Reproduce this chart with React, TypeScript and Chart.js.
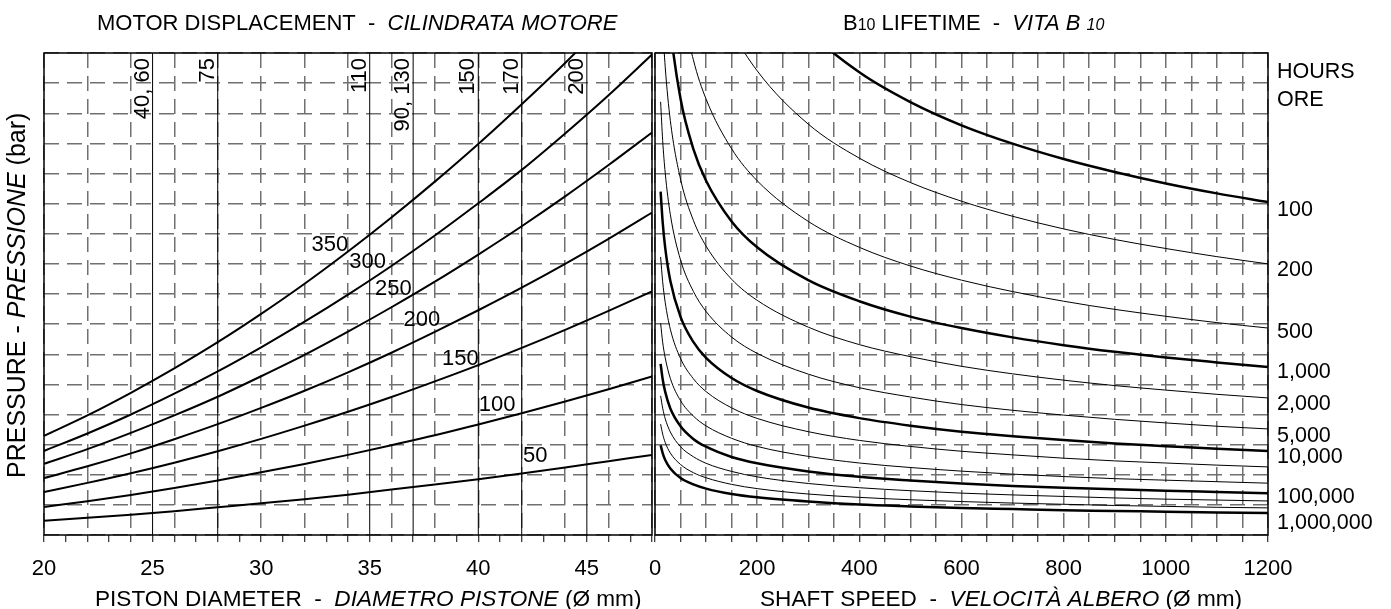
import { useEffect, useRef } from 'react';
import { Chart, registerables } from 'chart.js';

Chart.register(...registerables);

const FONT = '"Liberation Sans", Arial, Helvetica, sans-serif';
const GRID = '#707070';

// ---------- LEFT PANEL: motor displacement ----------
const pistonDiameters = [20, 22, 24, 26, 28, 30, 32, 34, 36, 38, 40, 42, 44, 46, 48];
const pressureCurveLabels = ['50', '100', '150', '200', '250', '300', '350'];
const load50 = [0.47, 0.57, 0.67, 0.79, 0.92, 1.05, 1.19, 1.34, 1.51, 1.68, 1.85, 2.04, 2.24, 2.45, 2.66];
const load100 = [0.93, 1.12, 1.33, 1.56, 1.81, 2.08, 2.36, 2.66, 2.98, 3.31, 3.67, 4.04, 4.43, 4.84, 5.26];
const load150 = [1.43, 1.73, 2.05, 2.4, 2.78, 3.19, 3.63, 4.09, 4.58, 5.1, 5.64, 6.21, 6.81, 7.44, 8.09];
const load200 = [1.89, 2.28, 2.71, 3.18, 3.68, 4.22, 4.79, 5.4, 6.05, 6.74, 7.46, 8.21, 9.0, 9.83, 10.7];
const load250 = [2.36, 2.85, 3.39, 3.97, 4.59, 5.27, 5.98, 6.75, 7.56, 8.41, 9.31, 10.25, 11.24, 12.28, 13.36];
const load300 = [2.79, 3.37, 4.0, 4.69, 5.43, 6.23, 7.08, 7.98, 8.93, 9.94, 11.01, 12.12, 13.33, 14.6, 15.95];
const load350 = [3.29, 3.97, 4.72, 5.53, 6.4, 7.34, 8.34, 9.41, 10.54, 11.73, 12.98, 14.3, 15.67, 17.12, null];
const pressureCurves = [load50, load100, load150, load200, load250, load300, load350];
// label anchors (diameter, load) for the pressure curves
const pressureLabelX = [42.62, 40.87, 39.17, 37.4, 36.09, 34.9, 33.17];
const pressureLabelY = [2.62, 4.32, 5.84, 7.14, 8.17, 9.07, 9.63];

const displacementDiameters = [25, 28, 35, 37, 40, 42, 45];
const displacementLabels = ['40, 60', '75', '110', '90, 130', '150', '170', '200'];

// ---------- RIGHT PANEL: B10 lifetime ----------
const shaftSpeeds = [11, 15, 20, 30, 50, 75, 100, 150, 200, 300, 400, 500, 600, 700, 800, 900, 1000, 1100, 1200];
const lifeHours = [100, 200, 500, 1000, 2000, 5000, 10000, 20000, 50000, 100000, 200000, 500000, 1000000];
const life100 = [null, null, null, null, null, null, null, 20.6, 18.9, 16.75, 15.36, 14.37, 13.6, 12.99, 12.48, 12.05, 11.67, 11.34, 11.05];
const life200 = [null, null, null, null, null, 20.7, 18.96, 16.79, 15.41, 13.64, 12.51, 11.7, 11.08, 10.58, 10.16, 9.81, 9.51, 9.24, 9.0];
const life500 = [null, null, null, 20.8, 17.83, 15.78, 14.47, 12.82, 11.76, 10.41, 9.55, 8.93, 8.46, 8.08, 7.76, 7.49, 7.26, 7.05, 6.87];
const life1000 = [null, null, 19.06, 16.87, 14.48, 12.82, 11.76, 10.41, 9.55, 8.46, 7.76, 7.25, 6.87, 6.56, 6.3, 6.08, 5.89, 5.73, 5.58];
const life2000 = [18.59, 16.94, 15.54, 13.76, 11.81, 10.45, 9.59, 8.49, 7.79, 6.9, 6.32, 5.92, 5.6, 5.35, 5.14, 4.96, 4.81, 4.67, 4.55];
const life5000 = [14.38, 13.1, 12.02, 10.64, 9.13, 8.09, 7.42, 6.57, 6.03, 5.34, 4.89, 4.58, 4.33, 4.14, 3.98, 3.84, 3.72, 3.61, 3.52];
const life10000 = [11.4, 10.39, 9.53, 8.44, 7.24, 6.41, 5.88, 5.21, 4.78, 4.23, 3.88, 3.63, 3.43, 3.28, 3.15, 3.04, 2.95, 2.86, 2.79];
const life20000 = [9.23, 8.41, 7.72, 6.83, 5.86, 5.19, 4.76, 4.22, 3.87, 3.43, 3.14, 2.94, 2.78, 2.66, 2.55, 2.46, 2.39, 2.32, 2.26];
const life50000 = [7.03, 6.4, 5.88, 5.2, 4.46, 3.95, 3.62, 3.21, 2.94, 2.61, 2.39, 2.24, 2.12, 2.02, 1.94, 1.87, 1.82, 1.77, 1.72];
const life100000 = [5.68, 5.17, 4.75, 4.2, 3.61, 3.19, 2.93, 2.59, 2.38, 2.11, 1.93, 1.81, 1.71, 1.63, 1.57, 1.52, 1.47, 1.43, 1.39];
const life200000 = [4.62, 4.21, 3.86, 3.42, 2.93, 2.6, 2.38, 2.11, 1.93, 1.71, 1.57, 1.47, 1.39, 1.33, 1.28, 1.23, 1.19, 1.16, 1.13];
const life500000 = [3.68, 3.35, 3.07, 2.72, 2.34, 2.07, 1.9, 1.68, 1.54, 1.36, 1.25, 1.17, 1.11, 1.06, 1.02, 0.98, 0.95, 0.92, 0.9];
const life1000000 = [2.98, 2.72, 2.49, 2.21, 1.89, 1.68, 1.54, 1.36, 1.25, 1.11, 1.01, 0.95, 0.9, 0.86, 0.82, 0.8, 0.77, 0.75, 0.73];
const lifeCurves = [life100, life200, life500, life1000, life2000, life5000, life10000, life20000, life50000, life100000, life200000, life500000, life1000000];

const hoursLabels = ['HOURS', 'ORE', '100', '200', '500', '1,000', '2,000', '5,000', '10,000', '100,000', '1,000,000'];
const hoursLabelY = [15.37, 14.44, 10.79, 8.8, 6.74, 5.41, 4.35, 3.29, 2.59, 1.26, 0.4];

// ---------- text helpers ----------
type Seg = { t: string; i?: boolean; s?: number };
const LEFT_TITLE: Seg[] = [{ t: 'MOTOR DISPLACEMENT  -  ' }, { t: 'CILINDRATA MOTORE', i: true }];
const LEFT_XTITLE: Seg[] = [{ t: 'PISTON DIAMETER  -  ' }, { t: 'DIAMETRO PISTONE', i: true }, { t: ' (Ø mm)' }];
const Y_TITLE: Seg[] = [{ t: 'PRESSURE - ' }, { t: 'PRESSIONE', i: true }, { t: ' (bar)' }];
const RIGHT_TITLE: Seg[] = [{ t: 'B' }, { t: '10', s: 16 }, { t: ' LIFETIME  -  ' }, { t: 'VITA B ', i: true }, { t: '10', i: true, s: 16 }];
const RIGHT_XTITLE: Seg[] = [{ t: 'SHAFT SPEED  -  ' }, { t: 'VELOCITÀ ALBERO', i: true }, { t: ' (Ø mm)' }];

function drawSegments(ctx: CanvasRenderingContext2D, segs: Seg[], x: number, y: number, size: number) {
  ctx.textAlign = 'left';
  ctx.textBaseline = 'alphabetic';
  ctx.fillStyle = '#000';
  let cx = x;
  for (const sg of segs) {
    ctx.font = `${sg.i ? 'italic ' : ''}${sg.s ?? size}px ${FONT}`;
    ctx.fillText(sg.t, cx, y);
    cx += ctx.measureText(sg.t).width;
  }
}

const framePlugin = {
  id: 'frame',
  afterDatasetsDraw(chart: any) {
    const { ctx, chartArea: a } = chart;
    ctx.save();
    ctx.strokeStyle = '#000';
    ctx.lineWidth = 1.5;
    ctx.strokeRect(a.left, a.top, a.right - a.left, a.bottom - a.top);
    ctx.restore();
  },
};

const leftText = {
  id: 'leftText',
  afterDraw(chart: any) {
    const { ctx, chartArea } = chart;
    const x = chart.scales.x;
    const y = chart.scales.y;
    ctx.save();
    drawSegments(ctx, LEFT_TITLE, 97, 30, 22);
    drawSegments(ctx, LEFT_XTITLE, 95, 606, 22.6);
    ctx.save();
    ctx.translate(25, 478);
    ctx.rotate(-Math.PI / 2);
    drawSegments(ctx, Y_TITLE, 0, 0, 25);
    ctx.restore();
    ctx.font = `22px ${FONT}`;
    ctx.fillStyle = '#000';
    ctx.textAlign = 'center';
    ctx.textBaseline = 'middle';
    pressureCurveLabels.forEach((t, i) => {
      ctx.fillText(t, x.getPixelForValue(pressureLabelX[i]), y.getPixelForValue(pressureLabelY[i]));
    });
    displacementDiameters.forEach((d, i) => {
      ctx.save();
      ctx.translate(x.getPixelForValue(d) - 4, chartArea.top + 5);
      ctx.rotate(-Math.PI / 2);
      ctx.textAlign = 'right';
      ctx.textBaseline = 'alphabetic';
      ctx.fillText(displacementLabels[i], 0, 0);
      ctx.restore();
    });
    ctx.restore();
  },
};

const RIGHT_OFFSET = 634;
const rightText = {
  id: 'rightText',
  afterDraw(chart: any) {
    const { ctx, chartArea } = chart;
    const y = chart.scales.y;
    ctx.save();
    drawSegments(ctx, RIGHT_TITLE, 843 - RIGHT_OFFSET, 30, 22);
    drawSegments(ctx, RIGHT_XTITLE, 760 - RIGHT_OFFSET, 606, 22.6);
    ctx.font = `21.5px ${FONT}`;
    ctx.fillStyle = '#000';
    ctx.textAlign = 'left';
    ctx.textBaseline = 'middle';
    hoursLabels.forEach((t, i) => {
      ctx.fillText(t, chartArea.right + 9, y.getPixelForValue(hoursLabelY[i]));
    });
    ctx.restore();
  },
};

const tickFont = { family: FONT, size: 22 };

function makeLeftConfig(): any {
  const datasets: any[] = [];
  displacementDiameters.forEach((d) => {
    datasets.push({
      data: [{ x: d, y: 0 }, { x: d, y: 16 }],
      borderColor: '#000',
      borderWidth: 1,
      pointRadius: 0,
    });
  });
  pressureCurves.forEach((vals) => {
    datasets.push({
      data: pistonDiameters.map((d, i) => ({ x: d, y: vals[i] })),
      borderColor: '#000',
      borderWidth: 2,
      pointRadius: 0,
      cubicInterpolationMode: 'monotone',
      borderJoinStyle: 'round',
    });
  });
  return {
    type: 'line',
    data: { datasets },
    options: {
      animation: false,
      responsive: false,
      events: [],
      layout: { padding: { top: 53, right: 2, left: 0, bottom: 0 } },
      plugins: { legend: { display: false }, tooltip: { enabled: false }, title: { display: false } },
      scales: {
        x: {
          type: 'linear',
          min: 20,
          max: 48,
          afterFit: (s: any) => { s.height = 74; s.paddingLeft = 0; s.paddingRight = 0; },
          ticks: {
            stepSize: 1,
            autoSkip: false,
            maxRotation: 0,
            padding: 14,
            color: '#000',
            font: tickFont,
            callback: (v: any) => (v % 5 === 0 ? String(v) : ''),
          },
          grid: {
            color: (c: any) => (c.tick && c.tick.value % 2 === 0 ? GRID : 'rgba(0,0,0,0)'),
            lineWidth: 1.5,
            tickColor: '#000',
            tickLength: 7,
            tickWidth: 1,
          },
          border: { display: false, dash: [15, 8] },
        },
        y: {
          type: 'linear',
          min: 0,
          max: 16,
          afterFit: (s: any) => { s.width = 44; },
          ticks: { display: false, stepSize: 1 },
          grid: { color: GRID, lineWidth: 1.5, drawTicks: false },
          border: { display: false, dash: [15, 8] },
        },
      },
    },
    plugins: [framePlugin, leftText],
  };
}

function makeRightConfig(): any {
  const datasets = lifeCurves.map((vals, k) => {
    const major = Number.isInteger(Math.log10(lifeHours[k]));
    return {
      data: shaftSpeeds.map((n, i) => ({ x: n, y: vals[i] })),
      borderColor: '#000',
      borderWidth: major ? 2.5 : 1,
      pointRadius: 0,
      cubicInterpolationMode: 'monotone',
      borderJoinStyle: 'round',
    };
  });
  return {
    type: 'line',
    data: { datasets },
    options: {
      animation: false,
      responsive: false,
      events: [],
      layout: { padding: { top: 53, right: 123, left: 0, bottom: 0 } },
      plugins: { legend: { display: false }, tooltip: { enabled: false }, title: { display: false } },
      scales: {
        x: {
          type: 'linear',
          min: 0,
          max: 1200,
          afterFit: (s: any) => { s.height = 74; s.paddingLeft = 0; s.paddingRight = 0; },
          ticks: {
            stepSize: 50,
            autoSkip: false,
            maxRotation: 0,
            padding: 14,
            color: '#000',
            font: tickFont,
            callback: (v: any) => (v % 200 === 0 ? String(v) : ''),
          },
          grid: { color: GRID, lineWidth: 1.5, tickColor: '#000', tickLength: 7, tickWidth: 1 },
          border: { display: false, dash: [15, 8] },
        },
        y: {
          type: 'linear',
          min: 0,
          max: 16,
          afterFit: (s: any) => { s.width = 21; },
          ticks: { display: false, stepSize: 1 },
          grid: { color: GRID, lineWidth: 1.5, drawTicks: false },
          border: { display: false, dash: [15, 8] },
        },
      },
    },
    plugins: [framePlugin, rightText],
  };
}

export default function App() {
  const leftRef = useRef<HTMLCanvasElement>(null);
  const rightRef = useRef<HTMLCanvasElement>(null);
  useEffect(() => {
    const left = new Chart(leftRef.current as HTMLCanvasElement, makeLeftConfig());
    const right = new Chart(rightRef.current as HTMLCanvasElement, makeRightConfig());
    return () => {
      left.destroy();
      right.destroy();
    };
  }, []);
  return (
    <div style={{ position: 'absolute', left: 0, top: 0, width: 1391, height: 609, background: '#fff', overflow: 'hidden' }}>
      <canvas
        ref={leftRef}
        width={654}
        height={609}
        style={{ position: 'absolute', left: 0, top: 0, width: 654, height: 609 }}
      />
      <canvas
        ref={rightRef}
        width={757}
        height={609}
        style={{ position: 'absolute', left: RIGHT_OFFSET, top: 0, width: 757, height: 609 }}
      />
    </div>
  );
}
